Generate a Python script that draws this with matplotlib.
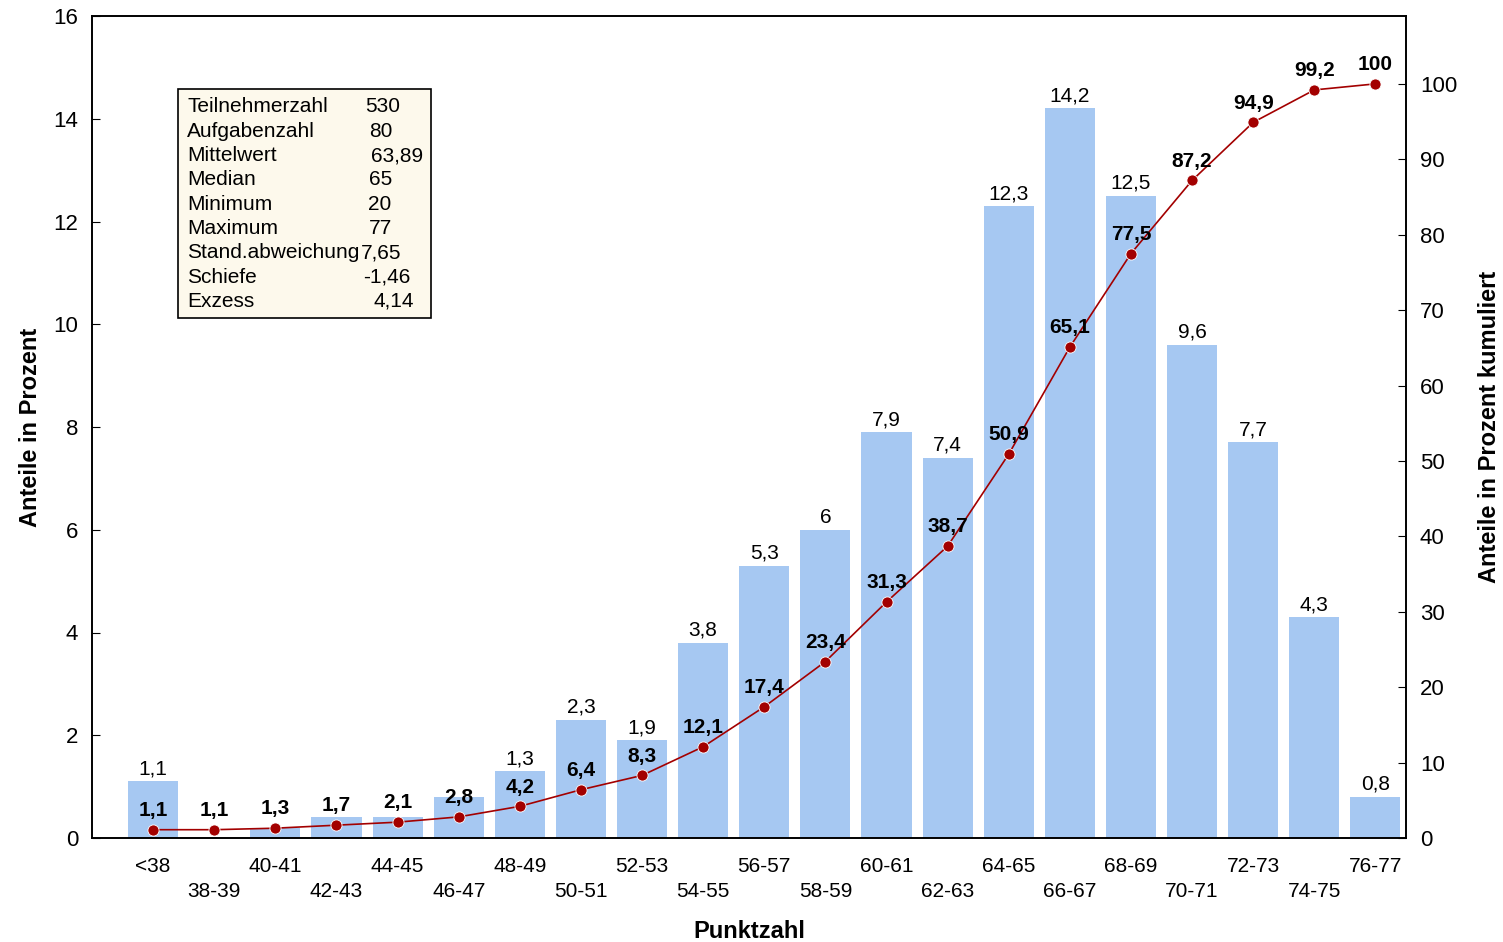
import matplotlib
matplotlib.use("Agg")
import matplotlib.pyplot as plt
from matplotlib.patches import Rectangle

plt.rcParams['font.family'] = ['Liberation Sans', 'DejaVu Sans']

categories = ['<38', '38-39', '40-41', '42-43', '44-45', '46-47', '48-49', '50-51',
              '52-53', '54-55', '56-57', '58-59', '60-61', '62-63', '64-65', '66-67',
              '68-69', '70-71', '72-73', '74-75', '76-77']
shares = [1.1, 0.0, 0.2, 0.4, 0.4, 0.8, 1.3, 2.3, 1.9, 3.8, 5.3, 6.0, 7.9, 7.4,
          12.3, 14.2, 12.5, 9.6, 7.7, 4.3, 0.8]
share_labels = ['1,1', '', '', '', '', '', '1,3', '2,3', '1,9', '3,8', '5,3', '6', '7,9',
                '7,4', '12,3', '14,2', '12,5', '9,6', '7,7', '4,3', '0,8']
cumulative = [1.1, 1.1, 1.3, 1.7, 2.1, 2.8, 4.2, 6.4, 8.3, 12.1, 17.4, 23.4, 31.3, 38.7,
              50.9, 65.1, 77.5, 87.2, 94.9, 99.2, 100]

stat_names = ['Teilnehmerzahl', 'Aufgabenzahl', 'Mittelwert', 'Median', 'Minimum',
              'Maximum', 'Stand.abweichung', 'Schiefe', 'Exzess']
stat_values = ['530', '80', '63,89', '65', '20', '77', '7,65', '-1,46', '4,14']
# Startposition der Werte (Pixel), wie im Original leicht versetzt
value_x = [365, 369, 371, 369, 368, 369, 361, 363, 373]


def fmt(v):
    s = ('%.1f' % v).rstrip('0').rstrip('.')
    return s.replace('.', ',')


fig = plt.figure(figsize=(15.03, 9.42), dpi=100)
ax = fig.add_axes([92 / 1503, 1 - 838 / 942, 1314 / 1503, 822 / 942])
ax2 = ax.twinx()

x = list(range(len(categories)))
ax.bar(x, shares, width=0.82, color='#a6c8f2', zorder=2)
for i, lab in enumerate(share_labels):
    if lab:
        ax.text(i, shares[i] + 0.06, lab, ha='center', va='bottom', fontsize=15)

ax.set_xlim(-1, 20.5)
ax.set_ylim(0, 16)
ax.set_yticks(range(0, 17, 2))
ax.tick_params(axis='y', direction='in', labelsize=16, length=6, pad=10)
ax.set_xticks(x)
ax.set_xticklabels([c if i % 2 == 0 else '\n' + c for i, c in enumerate(categories)],
                   fontsize=15, linespacing=1.35)
ax.tick_params(axis='x', length=0, pad=14)
ax.set_ylabel('Anteile in Prozent', fontsize=17, fontweight='bold', labelpad=8)
ax.set_xlabel('Punktzahl', fontsize=17, fontweight='bold', labelpad=14)

ax2.plot(x, cumulative, color='#a30000', lw=1.2, marker='o', ms=8,
         mec='white', mew=0.6, zorder=3)
for i, v in enumerate(cumulative):
    ax2.text(i, v + 1.3, fmt(v), ha='center', va='bottom', fontsize=15,
             fontweight='bold', zorder=4)
ax2.set_ylim(0, 109)
ax2.set_yticks(range(0, 101, 10))
ax2.tick_params(axis='y', direction='in', labelsize=16, length=6, pad=10)
ax2.set_ylabel('Anteile in Prozent kumuliert', fontsize=17, fontweight='bold',
               labelpad=15)

for a in (ax, ax2):
    for s in a.spines.values():
        s.set_linewidth(1.2)

# Kennzahlen-Box
box = Rectangle((178 / 1503, 1 - 318 / 942), 253 / 1503, 229 / 942,
                transform=fig.transFigure, facecolor='#fdf9ec', edgecolor='black',
                lw=1.2, zorder=5)
fig.patches.append(box)
for k, (n, v) in enumerate(zip(stat_names, stat_values)):
    yy = 1 - (107 + k * 24.3) / 942
    fig.text(187 / 1503, yy, n, fontsize=15, va='center', zorder=6)
    fig.text(value_x[k] / 1503, yy, v, fontsize=15, va='center', zorder=6)

fig.savefig('out.png', dpi=100)
